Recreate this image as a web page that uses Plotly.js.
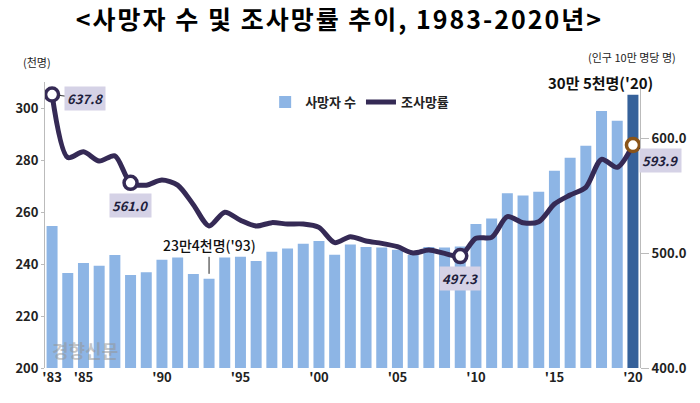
<!DOCTYPE html>
<html>
<head>
<meta charset="utf-8">
<script src="https://cdn.plot.ly/plotly-3.0.1.min.js"></script>
<style>html,body{margin:0;padding:0;background:#fff;}#chart{width:700px;height:403px;}
.gtitle{letter-spacing:2px;}</style>
</head>
<body>
<div id="chart"></div>
<script>
// ---- data ----
var years = [1983,1984,1985,1986,1987,1988,1989,1990,1991,1992,1993,1994,1995,1996,1997,1998,1999,2000,
             2001,2002,2003,2004,2005,2006,2007,2008,2009,2010,2011,2012,2013,2014,2015,2016,2017,2018,2019,2020];
// 사망자 수 (천명)
var deaths = [254.6,236.5,240.4,239.3,243.5,235.8,236.8,241.6,242.5,236.2,234.3,242.5,242.8,241.2,244.7,246.0,247.8,248.8,
              243.6,247.5,246.5,246.3,245.5,243.5,246.5,246.3,246.7,255.4,257.5,267.2,266.3,267.8,275.9,280.9,285.5,298.8,295.1,305.1];
// 조사망률 (인구 10만 명당 명)
var rate = [637.8,583.0,588.0,580.0,584.5,561.0,559.0,563.5,559.0,542.0,523.5,535.5,528.5,523.5,526.4,525.2,525.2,522.3,
            509.0,514.2,510.4,508.4,505.5,500.0,502.6,499.7,497.3,512.8,513.6,531.6,526.3,527.2,542.6,550.4,557.1,581.5,574.5,593.9];
var tickYears = [1983,1985,1990,1995,2000,2005,2010,2015,2020];
var tickLabels = ["'83","'85","'90","'95","'00","'05","'10","'15","'20"];
var markedYears = [1983,1988,2009,2020];

var FONT = "'Noto Sans CJK KR', 'Noto Sans', sans-serif";
var barColors = years.map(function(y){ return y === 2020 ? '#35619A' : '#8DB5E5'; });
var mIdx = markedYears.map(function(y){ return years.indexOf(y); });
var mRate = mIdx.map(function(i){ return rate[i]; });
var mLineColors = markedYears.map(function(y){ return y === 2020 ? '#8A5418' : '#352A55'; });

var traces = [
  {type:'bar', x:years, y:deaths, name:'사망자 수', marker:{color:barColors}, hoverinfo:'x+y'},
  {type:'scatter', mode:'lines', x:years, y:rate, yaxis:'y2', name:'조사망률',
   line:{color:'#352A55', width:5, shape:'spline', smoothing:0.8}},
  {type:'scatter', mode:'markers', x:markedYears, y:mRate, yaxis:'y2', showlegend:false,
   marker:{size:13, color:'#ffffff', line:{color:mLineColors, width:3.5}}}
];

function valLabel(year, text, opts){
  var i = years.indexOf(year);
  var a = {x:year, y:rate[i], xref:'x', yref:'y2', text:'<b><i>'+text+'</i></b>',
    font:{family:FONT, size:13, color:'#1E1E3C'}, bgcolor:'#D5D2E6', borderpad:2};
  for (var k in opts) a[k] = opts[k];
  return a;
}
function px(x){ return (x-45)/595; }
function py(y){ return (368-y)/286; }

var annotations = [
  valLabel(1983, rate[0].toFixed(1), {showarrow:true, arrowhead:0, arrowwidth:1, arrowcolor:'#333', ax:33, ay:4, standoff:7}),
  valLabel(1988, rate[years.indexOf(1988)].toFixed(1), {showarrow:false, yshift:-23}),
  valLabel(2009, rate[years.indexOf(2009)].toFixed(1), {showarrow:false, yshift:-22}),
  valLabel(2020, rate[years.indexOf(2020)].toFixed(1), {showarrow:true, arrowhead:0, arrowwidth:1, arrowcolor:'#333', ax:28, ay:15, standoff:7}),
  {x:1993, y:deaths[years.indexOf(1993)], xref:'x', yref:'y', text:"23만4천명('93)", showarrow:true, arrowhead:0,
   arrowwidth:1, arrowcolor:'#222', ax:0, ay:-22, standoff:5, yanchor:'bottom',
   font:{family:FONT, size:14, color:'#111', weight:500}},
  {x:px(600), y:py(82), xref:'paper', yref:'paper', xanchor:'center', yanchor:'middle', text:"<b>30만 5천명('20)</b>", showarrow:false,
   font:{family:FONT, size:15, color:'#111'}},
  {xref:'paper', yref:'paper', x:px(37), y:py(62), xanchor:'center', yanchor:'middle', text:'(천명)', showarrow:false,
   font:{family:FONT, size:11, color:'#222'}},
  {xref:'paper', yref:'paper', x:px(632), y:py(57), xanchor:'center', yanchor:'middle', text:'(인구 10만 명당 명)', showarrow:false,
   font:{family:FONT, size:11, color:'#222'}},
  {xref:'paper', yref:'paper', x:px(50), y:py(350), xanchor:'left', yanchor:'middle', text:'<b>경향신문</b>', showarrow:false,
   font:{family:FONT, size:18, color:'rgba(150,150,150,0.55)'}}
];

var tickFont = {family:FONT, size:13, color:'#222', weight:'bold'};
var layout = {
  width:700, height:403,
  margin:{l:45, r:60, t:82, b:35},
  paper_bgcolor:'#ffffff', plot_bgcolor:'#ffffff',
  font:{family:FONT, color:'#222'},
  title:{text:'<b><사망자 수 및 조사망률 추이, 1983-2020년></b>', x:0.485, xanchor:'center', y:0.95, yanchor:'middle',
         font:{family:FONT, size:25, color:'#000'}},
  bargap:0.3,
  showlegend:true,
  legend:{orientation:'h', x:0.37, y:0.93, xanchor:'left', yanchor:'middle', bgcolor:'rgba(0,0,0,0)',
          font:{family:FONT, size:13, color:'#222', weight:'bold'}, itemwidth:30, tracegroupgap:0},
  xaxis:{range:[1982.55, 2020.45], tickmode:'array', tickvals:tickYears, ticktext:tickLabels,
         showgrid:false, zeroline:false, showline:false, ticks:'', tickfont:tickFont},
  yaxis:{range:[200, 310], tickvals:[200,220,240,260,280,300], showgrid:false, zeroline:false,
         showline:true, linecolor:'#bbbbbb', linewidth:1, ticks:'outside', ticklen:3, tickcolor:'#bbbbbb',
         tickfont:tickFont},
  yaxis2:{overlaying:'y', side:'right', range:[400, 648.7], tickvals:[400,500,600], ticktext:['400.0','500.0','600.0'],
          showgrid:false, zeroline:false, showline:true, linecolor:'#bbbbbb', linewidth:1, ticks:'outside', ticklen:8,
          tickcolor:'#bbbbbb', tickfont:tickFont},
  annotations:annotations
};

Plotly.newPlot('chart', traces, layout, {displayModeBar:false, staticPlot:true});
</script>
</body>
</html>
